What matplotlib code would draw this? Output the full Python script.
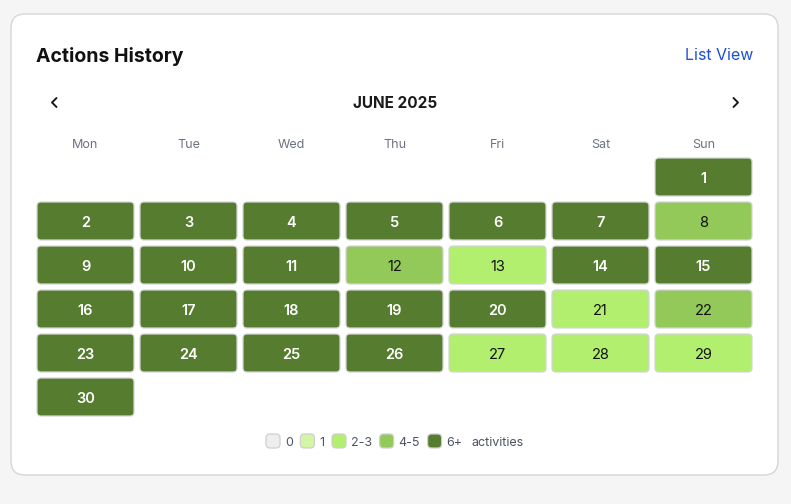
import numpy as np
import matplotlib.pyplot as plt
from matplotlib.patches import FancyBboxPatch

plt.rcParams['font.family'] = ['Inter', 'DejaVu Sans']

# dados do calendario
title = 'Actions History'
month_label = 'JUNE 2025'
weekdays = ['Mon', 'Tue', 'Wed', 'Thu', 'Fri', 'Sat', 'Sun']
first_weekday = 6  # 1 de junho 2025 cai no domingo
days = list(range(1, 31))
# nivel de atividade por dia (0: 0, 1: 1, 2: 2-3, 3: 4-5, 4: 6+)
levels = [4, 4, 4, 4, 4, 4, 4, 3, 4, 4,
          4, 3, 2, 4, 4, 4, 4, 4, 4, 4,
          2, 3, 4, 4, 4, 4, 2, 2, 2, 4]
legend_labels = ['0', '1', '2-3', '4-5', '6+']
level_colors = ['#eeeeee', '#d2f5a6', '#b3ef6f', '#93c959', '#567c2f']

W, H = 791, 504
fig = plt.figure(figsize=(W / 100, H / 100), dpi=100, facecolor='#f5f5f5')
ax = fig.add_axes([0, 0, 1, 1])
ax.set_xlim(0, W)
ax.set_ylim(H, 0)
ax.axis('off')

# cartao
card = FancyBboxPatch((11, 14), 767, 461, boxstyle='round,pad=0,rounding_size=14',
                      facecolor='white', edgecolor='#d6d6d6', linewidth=1.0)
ax.add_patch(card)

ax.text(36, 57, title, fontsize=14, fontweight='bold', color='#111111',
        ha='left', va='center')
ax.text(753, 56, 'List View', fontsize=11.5, color='#1d4ed8', ha='right', va='center')

# navegacao
ax.plot([56.5, 52, 56.5], [98, 102.5, 107], color='#1a1a1a', lw=1.4, solid_capstyle='round')
ax.plot([733.5, 738, 733.5], [98, 102.5, 107], color='#1a1a1a', lw=1.4, solid_capstyle='round')
ax.text(395, 103.5, month_label, fontsize=11, fontweight='bold', color='#1a1a1a',
        ha='center', va='center')

# grade
grid_x0, grid_y0 = 37, 158
col_pitch, row_pitch = 103.0, 44.0
cell_w, cell_h = 97, 38

for c, name in enumerate(weekdays):
    ax.text(grid_x0 + c * col_pitch + cell_w / 2, 145, name, fontsize=9,
            color='#6b7280', ha='center', va='center')

for d, lv in zip(days, levels):
    idx = first_weekday + d - 1
    row, col = divmod(idx, 7)
    x = grid_x0 + col * col_pitch
    y = grid_y0 + row * row_pitch
    box = FancyBboxPatch((x, y), cell_w, cell_h,
                         boxstyle='round,pad=0,rounding_size=4',
                         facecolor=level_colors[lv], edgecolor='#d4d4d4',
                         linewidth=0.9)
    ax.add_patch(box)
    tc = 'white' if lv == 4 else '#111111'
    ax.text(x + cell_w / 2, y + cell_h / 2 + 2, str(d), fontsize=10.5,
            fontweight='semibold' if lv == 4 else 'normal', color=tc,
            ha='center', va='center')

# legenda
lx = 266
for lab, fc in zip(legend_labels, level_colors):
    sq = FancyBboxPatch((lx, 434), 14, 14, boxstyle='round,pad=0,rounding_size=4',
                        facecolor=fc, edgecolor='#cfcfcf', linewidth=0.9)
    ax.add_patch(sq)
    t = ax.text(lx + 19, 442.5, lab, fontsize=9, color='#4b5563', ha='left', va='center')
    fig.canvas.draw()
    bb = t.get_window_extent()
    lx = bb.x1 + 7.5
ax.text(lx + 1, 442.5, 'activities', fontsize=9, color='#4b5563', ha='left', va='center')

fig.savefig('out.png', dpi=100, facecolor=fig.get_facecolor())
